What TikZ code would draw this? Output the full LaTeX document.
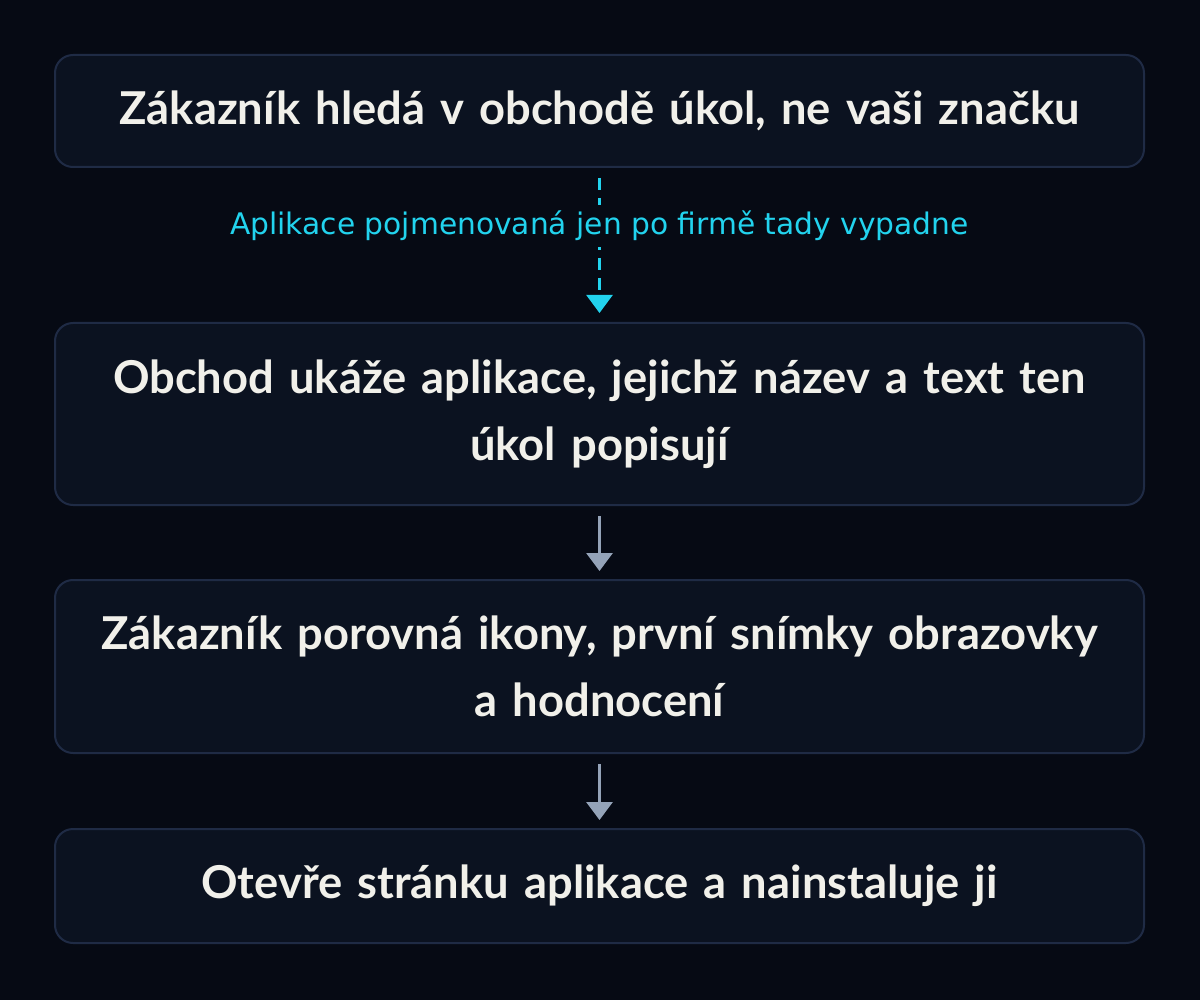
\documentclass[tikz,border=0pt]{standalone}
\usepackage{fontspec}
\setmainfont{Lato}
\newfontfamily\labelfont{DejaVu Sans}
\usetikzlibrary{arrows.meta}
\definecolor{bgc}{HTML}{060A14}
\definecolor{boxfill}{HTML}{0B1220}
\definecolor{boxline}{HTML}{1F2B45}
\definecolor{txt}{HTML}{F1F0EA}
\definecolor{cyanc}{HTML}{22D3EE}
\definecolor{grayarrow}{HTML}{94A3B8}
\tikzset{
  flowbox/.style={draw=boxline, line width=2pt, fill=boxfill, rounded corners=18pt,
    minimum width=1089pt, text width=1070pt, inner sep=0pt, align=center, text=txt,
    font=\bfseries\fontsize{45.3}{67}\selectfont},
  grayarr/.style={draw=grayarrow, line width=3pt, -{Triangle[length=18pt,width=26pt]}},
  cyanarr/.style={draw=cyanc, line width=2.5pt, dash pattern=on 12pt off 8pt, -{Triangle[length=18pt,width=26pt]}},
  steplabel/.style={fill=bgc, text=cyanc, font=\labelfont\fontsize{29.7}{32}\selectfont, inner sep=6pt}
}
\begin{document}
\begin{tikzpicture}[x=1pt,y=-1pt]
\fill[bgc] (0,0) rectangle (1200,1000);
\useasboundingbox (0,0) rectangle (1200,1000);
\node[flowbox, minimum height=112pt] (b1) at (599.5,111) {Zákazník hledá v~obchodě úkol, ne vaši značku};
\node[flowbox, minimum height=182pt] (b2) at (599.5,414) {Obchod ukáže aplikace, jejichž název a text ten\\úkol popisují};
\node[flowbox, minimum height=173pt] (b3) at (599.5,666.5) {Zákazník porovná ikony, první snímky obrazovky\\a hodnocení};
\node[flowbox, minimum height=114pt] (b4) at (599.5,886) {Otevře stránku aplikace a nainstaluje ji};
\draw[cyanarr, shorten <=10pt, shorten >=9pt] (b1.south) -- (b2.north);
\node[steplabel] (lab) at (599.5,226) {Aplikace pojmenovaná jen po firmě tady vypadne};
\draw[grayarr, shorten <=10pt, shorten >=8pt] (b2.south) -- (b3.north);
\draw[grayarr, shorten <=10pt, shorten >=8pt] (b3.south) -- (b4.north);
\end{tikzpicture}
\end{document}
